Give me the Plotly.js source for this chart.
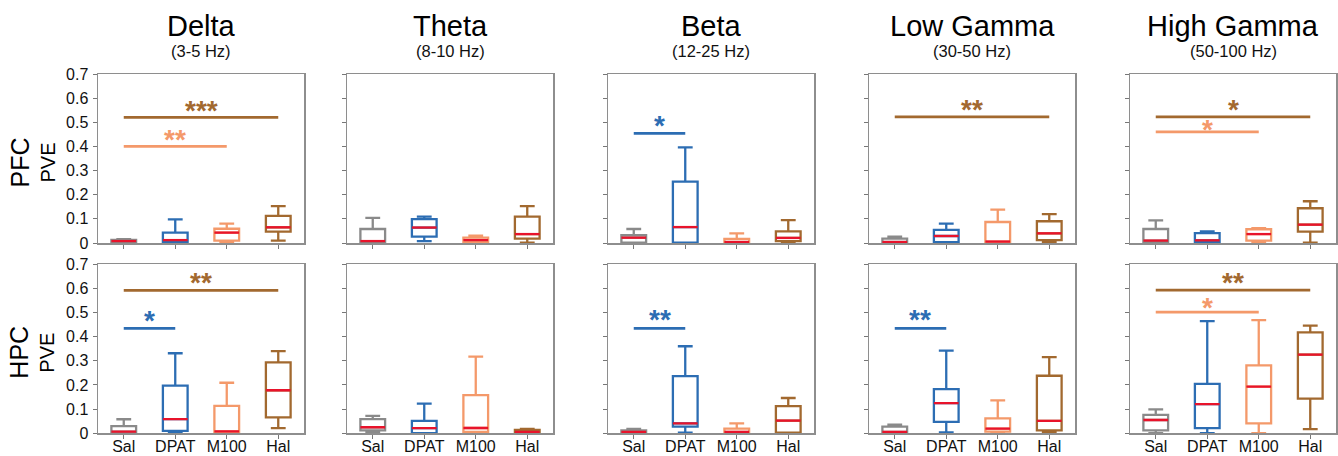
<!DOCTYPE html>
<html>
<head>
<meta charset="utf-8">
<script src="https://cdn.plot.ly/plotly-3.0.1.min.js"></script>
<style>html,body{margin:0;padding:0;background:#fff;}#chart{width:1338px;height:456px;}</style>
</head>
<body>
<div id="chart"></div>
<script>
// ---- data ----
const groups = ['Sal', 'DPAT', 'M100', 'Hal'];
const bands = ['Delta', 'Theta', 'Beta', 'Low Gamma', 'High Gamma'];
const bandRanges = ['(3-5 Hz)', '(8-10 Hz)', '(12-25 Hz)', '(30-50 Hz)', '(50-100 Hz)'];
const regions = ['PFC', 'HPC'];
const yTickVals = [0, 0.1, 0.2, 0.3, 0.4, 0.5, 0.6, 0.7];
const yTickText = ['0', '0.1', '0.2', '0.3', '0.4', '0.5', '0.6', '0.7'];

// PFC: rows = bands, cols = groups
const pfcLow  = [[0, 0, 0, 0.010], [0, 0.008, 0, 0.001], [0, 0, 0, 0], [0, 0, 0, 0.004], [0, 0, 0.001, 0.001]];
const pfcQ1   = [[0.002, 0.002, 0.010, 0.047], [0.001, 0.026, 0.003, 0.018], [0.001, 0.001, 0.000, 0.008], [0.000, 0.004, 0.001, 0.012], [0.001, 0.001, 0.010, 0.047]];
const pfcMed  = [[0.008, 0.012, 0.043, 0.065], [0.008, 0.064, 0.012, 0.037], [0.022, 0.066, 0.004, 0.021], [0.004, 0.029, 0.006, 0.040], [0.010, 0.011, 0.037, 0.076]];
const pfcQ3   = [[0.013, 0.043, 0.059, 0.112], [0.058, 0.099, 0.022, 0.109], [0.033, 0.254, 0.017, 0.048], [0.018, 0.054, 0.087, 0.090], [0.058, 0.041, 0.057, 0.144]];
const pfcHigh = [[0.016, 0.098, 0.080, 0.153], [0.104, 0.109, 0.030, 0.153], [0.058, 0.396, 0.040, 0.095], [0.026, 0.080, 0.138, 0.120], [0.094, 0.048, 0.062, 0.173]];

// HPC
const hpcLow  = [[0, 0.002, 0, 0.021], [0.003, 0, 0, 0], [0, 0.003, 0, 0], [0, 0.004, 0, 0.004], [0.001, 0.001, 0.001, 0.017]];
const hpcQ1   = [[0.003, 0.010, 0.000, 0.066], [0.012, 0.001, 0.006, 0.001], [0.000, 0.028, 0.000, 0.003], [0.001, 0.047, 0.007, 0.012], [0.012, 0.021, 0.041, 0.143]];
const hpcMed  = [[0.007, 0.059, 0.008, 0.178], [0.025, 0.021, 0.022, 0.006], [0.006, 0.041, 0.006, 0.052], [0.006, 0.125, 0.019, 0.051], [0.055, 0.121, 0.193, 0.325]];
const hpcQ3   = [[0.030, 0.197, 0.113, 0.293], [0.059, 0.051, 0.158, 0.014], [0.012, 0.236, 0.019, 0.112], [0.028, 0.183, 0.062, 0.238], [0.076, 0.204, 0.281, 0.417]];
const hpcHigh = [[0.058, 0.331, 0.209, 0.340], [0.072, 0.123, 0.317, 0.018], [0.018, 0.360, 0.041, 0.146], [0.036, 0.342, 0.136, 0.315], [0.099, 0.464, 0.468, 0.445]];

// significance bars
const sigRow   = [0, 0, 1, 1, 0, 1, 0, 1, 0, 0, 1, 1];
const sigBand  = [0, 0, 0, 0, 2, 2, 3, 3, 4, 4, 4, 4];
const sigFrom  = [1, 1, 1, 1, 1, 1, 1, 1, 1, 1, 1, 1];
const sigTo    = [4, 3, 4, 2, 2, 2, 4, 2, 4, 3, 4, 3];
const sigY     = [0.520, 0.400, 0.591, 0.434, 0.454, 0.434, 0.522, 0.434, 0.522, 0.460, 0.592, 0.501];
const sigStarY = [0.567, 0.447, 0.640, 0.485, 0.505, 0.488, 0.568, 0.488, 0.569, 0.488, 0.640, 0.537];
const sigLabel = ['***', '**', '**', '*', '*', '**', '**', '**', '*', '*', '**', '*'];
const sigGroup = [3, 2, 3, 1, 1, 1, 3, 1, 3, 2, 3, 2];

// ---- styling ----
const W = 1338, H = 456;
const groupColors = ['#8a8a8a', '#2c6db3', '#f4996a', '#a2692f'];
const medianColor = '#e8132b';
const FONT = 'Liberation Sans, Arial, sans-serif';
const panelLeft = [98, 347, 608, 869, 1130];
const panelWidth = 206;
const rowTop = [74, 264];
const rowBottom = [243, 433.3];
const boxW = 0.48;

const px2x = p => p / W;
const px2y = p => 1 - p / H;

const stats = [
  [pfcLow, pfcQ1, pfcMed, pfcQ3, pfcHigh],
  [hpcLow, hpcQ1, hpcMed, hpcQ3, hpcHigh]
];

const traces = [];
const layout = {
  width: W, height: H,
  margin: {l: 0, r: 0, t: 0, b: 0},
  paper_bgcolor: '#fff', plot_bgcolor: '#fff',
  showlegend: false,
  boxmode: 'overlay',
  font: {family: FONT, color: '#111'},
  annotations: [],
  hovermode: false
};

const positions = groups.map((g, i) => i + 1);

for (let r = 0; r < 2; r++) {
  for (let b = 0; b < 5; b++) {
    const idx = r * 5 + b + 1;
    const xa = 'x' + (idx === 1 ? '' : idx);
    const ya = 'y' + (idx === 1 ? '' : idx);
    const [lo, q1, med, q3, hi] = stats[r];
    groups.forEach((g, gi) => {
      traces.push({
        type: 'box', xaxis: xa, yaxis: ya,
        x: [positions[gi]],
        q1: [q1[b][gi]], median: [med[b][gi]], q3: [q3[b][gi]],
        lowerfence: [lo[b][gi]], upperfence: [hi[b][gi]],
        boxpoints: false, width: boxW, whiskerwidth: 0.6,
        line: {color: groupColors[gi], width: 2.3},
        fillcolor: 'rgba(255,255,255,0)',
        name: g
      });
    });
    // red median lines
    const mx = [], my = [];
    groups.forEach((g, gi) => {
      mx.push(positions[gi] - boxW / 2, positions[gi] + boxW / 2, null);
      my.push(med[b][gi], med[b][gi], null);
    });
    traces.push({
      type: 'scatter', mode: 'lines', xaxis: xa, yaxis: ya,
      x: mx, y: my, line: {color: medianColor, width: 2.3}, cliponaxis: true
    });

    const axKey = 'xaxis' + (idx === 1 ? '' : idx);
    const ayKey = 'yaxis' + (idx === 1 ? '' : idx);
    layout[axKey] = {
      domain: [px2x(panelLeft[b]), px2x(panelLeft[b] + panelWidth)],
      anchor: ya, range: [0.5, 4.5], fixedrange: true,
      tickmode: 'array', tickvals: positions, ticktext: groups,
      showticklabels: r === 1, ticks: 'outside', ticklen: 4, tickwidth: 1, tickcolor: '#777',
      ticklabelstandoff: -6,
      tickfont: {size: 16, family: FONT, color: '#111'},
      showline: true, mirror: true, linecolor: '#8e8e8e', linewidth: 1.5,
      showgrid: false, zeroline: false
    };
    layout[ayKey] = {
      domain: [px2y(rowBottom[r]), px2y(rowTop[r])],
      anchor: xa, range: [0, 0.7], fixedrange: true,
      tickmode: 'array', tickvals: yTickVals, ticktext: yTickText,
      showticklabels: b === 0, ticks: 'outside', ticklen: 4, tickwidth: 1, tickcolor: '#777',
      ticklabelstandoff: 1,
      tickfont: {size: 16, family: FONT, color: '#111'},
      showline: true, mirror: true, linecolor: '#8e8e8e', linewidth: 1.5,
      showgrid: false, zeroline: false
    };
  }
}

// significance bars and stars
for (let s = 0; s < sigLabel.length; s++) {
  const idx = sigRow[s] * 5 + sigBand[s] + 1;
  const xa = 'x' + (idx === 1 ? '' : idx);
  const ya = 'y' + (idx === 1 ? '' : idx);
  const col = groupColors[sigGroup[s]];
  traces.push({
    type: 'scatter', mode: 'lines', xaxis: xa, yaxis: ya,
    x: [sigFrom[s], sigTo[s]], y: [sigY[s], sigY[s]],
    line: {color: col, width: 2.8}
  });
  layout.annotations.push({
    xref: xa, yref: ya, x: (sigFrom[s] + sigTo[s]) / 2, y: sigStarY[s],
    text: sigLabel[s], showarrow: false, xanchor: 'center', yanchor: 'middle',
    yshift: -4,
    font: {family: FONT, size: 28, color: col, weight: 'bold'}
  });
}

// band titles
bands.forEach((name, b) => {
  const cx = px2x(panelLeft[b] + panelWidth / 2);
  layout.annotations.push({
    xref: 'paper', yref: 'paper', x: cx, y: px2y(26), text: name,
    showarrow: false, xanchor: 'center', yanchor: 'middle',
    font: {family: FONT, size: 29, color: '#000'}
  });
  layout.annotations.push({
    xref: 'paper', yref: 'paper', x: cx, y: px2y(51), text: bandRanges[b],
    showarrow: false, xanchor: 'center', yanchor: 'middle',
    font: {family: FONT, size: 16.5, color: '#111'}
  });
});

// row labels
regions.forEach((name, r) => {
  const cy = px2y((rowTop[r] + rowBottom[r]) / 2 + 4);
  layout.annotations.push({
    xref: 'paper', yref: 'paper', x: px2x(19), y: cy, text: name,
    showarrow: false, xanchor: 'center', yanchor: 'middle', textangle: -90,
    font: {family: FONT, size: 25, color: '#000'}
  });
  layout.annotations.push({
    xref: 'paper', yref: 'paper', x: px2x(47), y: cy, text: 'PVE',
    showarrow: false, xanchor: 'center', yanchor: 'middle', textangle: -90,
    font: {family: FONT, size: 20, color: '#000'}
  });
});

Plotly.newPlot('chart', traces, layout, {staticPlot: true, displayModeBar: false});
</script>
</body>
</html>
